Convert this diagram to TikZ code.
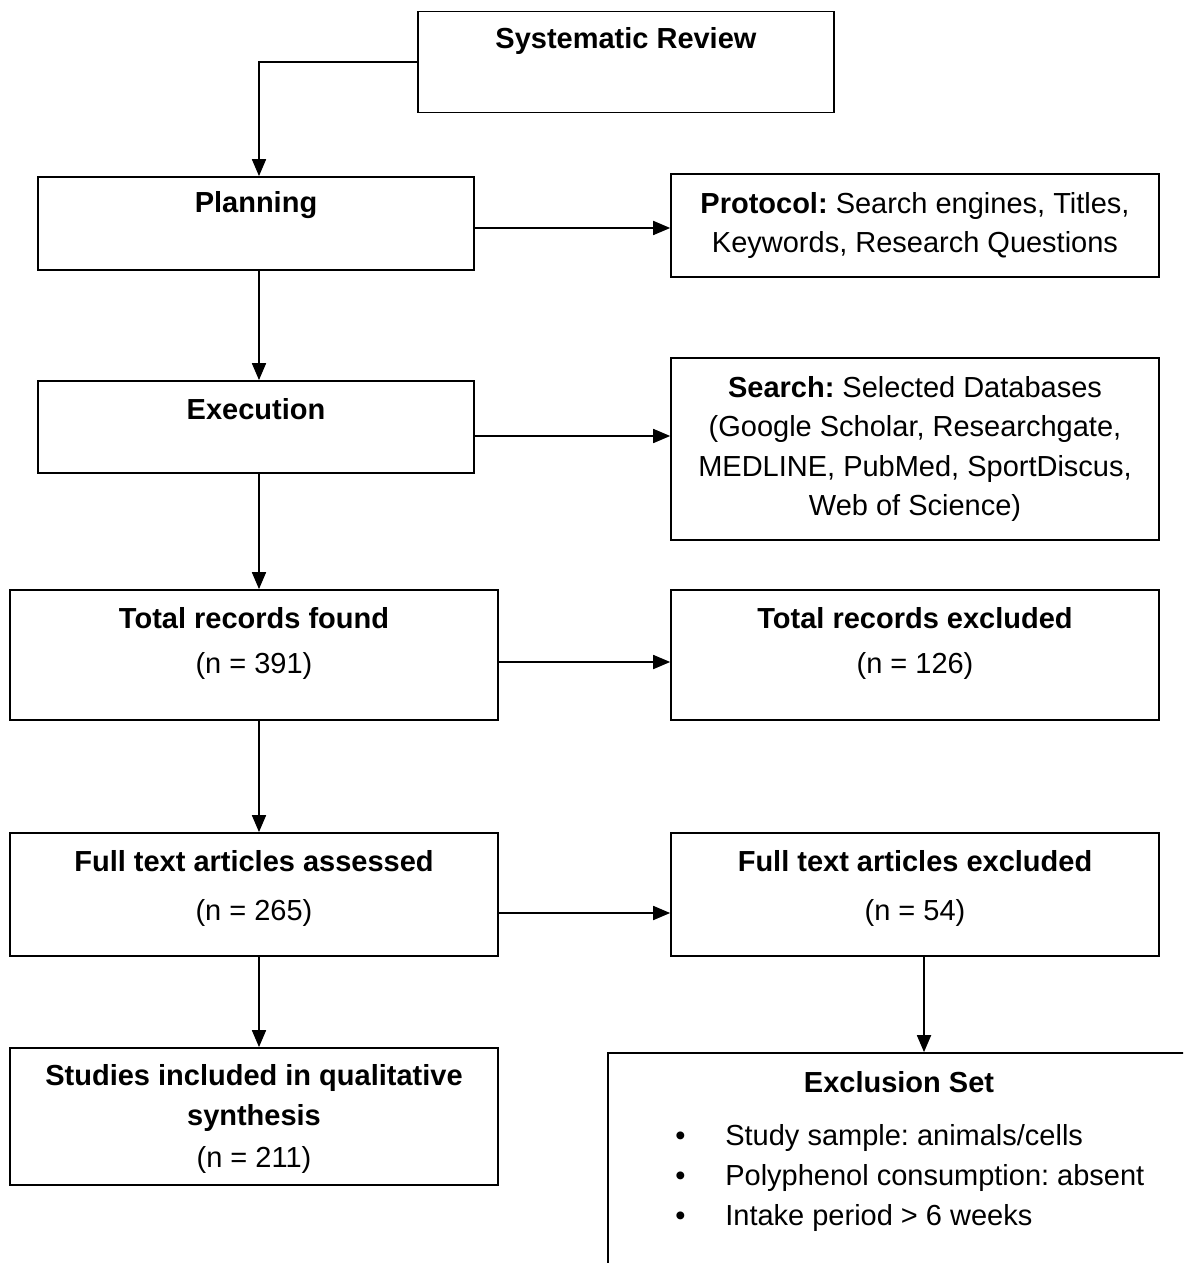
\documentclass[tikz,border=0pt]{standalone}
\usepackage{fontspec}
\setmainfont{Liberation Sans}
\usetikzlibrary{arrows.meta,calc}
\frenchspacing

\begin{document}
\begin{tikzpicture}[x=0.02cm,y=-0.02cm,
  box/.style={draw,line width=1pt,rectangle,inner sep=0pt},
  head/.style={inner sep=0pt,align=center,font=\fontsize{16.5}{22.5}\selectfont\bfseries},
  body/.style={inner sep=0pt,align=center,font=\fontsize{16.5}{22.5}\selectfont},
  arr/.style={line width=1pt,-{Triangle[length=0.34cm,width=0.28cm]}}]
\fill[white] (0,0) rectangle (1183,1263);
\useasboundingbox (0,0) rectangle (1183,1263);
\clip (0,0) rectangle (1183,1263);
\coordinate (spine) at (259,0);
\coordinate (rspine) at (924,0);
% left column
\node[box,minimum width=8.32cm,minimum height=2.02cm] (review) at (626,62) {};
\node[head] (reviewtxt) at (626,41) {Systematic Review};
\node[box,minimum width=8.72cm,minimum height=1.86cm] (plan) at (256,223.5) {};
\node[head] (plantxt) at (256,205) {Planning};
\node[box,minimum width=8.72cm,minimum height=1.84cm] (exec) at (256,427) {};
\node[head] (exectxt) at (256,409) {Execution};
\node[box,minimum width=9.76cm,minimum height=2.6cm] (found) at (254,655) {};
\node[head] (foundtxt) at (254,618) {Total records found};
\node[body] (foundn) at (254,666) {(n = 391)};
\node[box,minimum width=9.76cm,minimum height=2.46cm] (assess) at (254,894.5) {};
\node[head] (assesstxt) at (254,861) {Full text articles assessed};
\node[body] (assessn) at (254,913) {(n = 265)};
\node[box,minimum width=9.76cm,minimum height=2.74cm] (incl) at (254,1116.5) {};
\node[head] (incltxt) at (254,1098) {Studies included in qualitative\\synthesis};
\node[body] (incln) at (254,1160) {(n = 211)};
% right column
\node[box,body,minimum width=9.76cm,minimum height=2.06cm] (proto) at (915,225.5)
  {\textbf{Protocol:} Search engines, Titles,\\Keywords, Research Questions};
\node[box,body,minimum width=9.76cm,minimum height=3.64cm] (search) at (915,449)
  {\textbf{Search:} Selected Databases\\(Google Scholar, Researchgate,\\MEDLINE, PubMed, SportDiscus,\\Web of Science)};
\node[box,minimum width=9.76cm,minimum height=2.6cm] (excl) at (915,655) {};
\node[head] (excltxt) at (915,618) {Total records excluded};
\node[body] (excln) at (915,666) {(n = 126)};
\node[box,minimum width=9.76cm,minimum height=2.46cm] (ftexcl) at (915,894.5) {};
\node[head] (ftexcltxt) at (915,861) {Full text articles excluded};
\node[body] (ftexcln) at (915,913) {(n = 54)};
\node[box,minimum width=11.64cm,minimum height=4.92cm] (exset) at (899,1176) {};
\node[head] (exsettxt) at (899,1082) {Exclusion Set};
\node[body,align=left,anchor=west] (exlist) at (675,1178)
  {\makebox[1cm][l]{\textbullet}Study sample: animals/cells\\
   \makebox[1cm][l]{\textbullet}Polyphenol consumption: absent\\
   \makebox[1cm][l]{\textbullet}Intake period > 6 weeks};
% connectors
\draw[arr] (review.west) -| (plan.north -| spine);
\draw[arr] (plan.south -| spine) -- (exec.north -| spine);
\draw[arr] (exec.south -| spine) -- (found.north -| spine);
\draw[arr] (found.south -| spine) -- (assess.north -| spine);
\draw[arr] (assess.south -| spine) -- (incl.north -| spine);
\draw[arr] ($(plan.east)+(0,4.5)$) -- ($(plan.east -| proto.west)+(0,4.5)$);
\draw[arr] ($(exec.east)+(0,9)$) -- ($(exec.east -| search.west)+(0,9)$);
\draw[arr] ($(found.east)+(0,7)$) -- ($(found.east -| excl.west)+(0,7)$);
\draw[arr] ($(assess.east)+(0,18.5)$) -- ($(assess.east -| ftexcl.west)+(0,18.5)$);
\draw[arr] (ftexcl.south -| rspine) -- (exset.north -| rspine);
\end{tikzpicture}
\end{document}
